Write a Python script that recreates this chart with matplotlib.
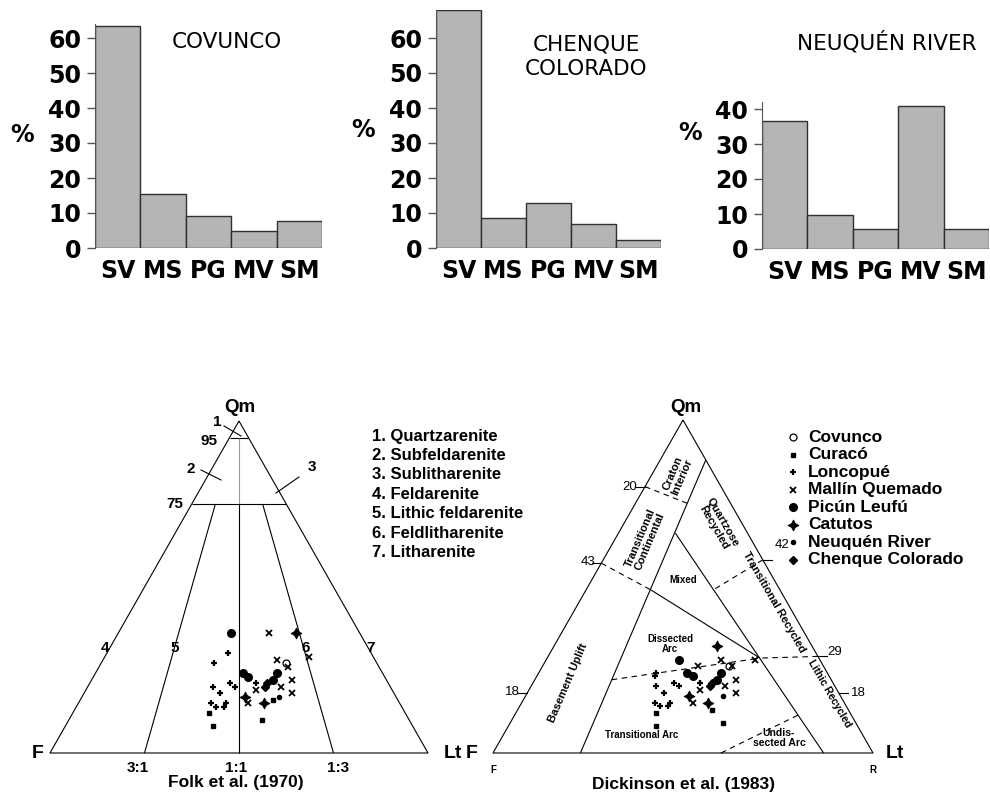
import numpy as np
import matplotlib.pyplot as plt

plt.rcParams['font.family'] = ['Liberation Sans', 'DejaVu Sans']

W, H = 990, 802

# histogram data (% of clasts)
categories = ['SV', 'MS', 'PG', 'MV', 'SM']
covunco_pct = [63.5, 15.4, 9.1, 4.9, 7.8]
chenque_pct = [68.0, 8.6, 12.9, 6.9, 2.4]
neuquen_pct = [36.7, 9.7, 5.6, 41.0, 5.6]

localities = ['Covunco', 'Curacó', 'Loncopué', 'Mallín Quemado', 'Picún Leufú',
              'Catutos', 'Neuquén River', 'Chenque Colorado']

# Dickinson diagram, (Qm, F, Lt) in %
dk_covunco = [(26, 25, 49)]
dk_curaco = [(12, 51, 37), (13, 36, 51), (9, 35, 56), (8, 53, 39)]
dk_loncopue = [(24, 45, 31), (23, 46, 31), (21, 42, 37), (20, 47, 33), (20, 41, 39),
               (18, 46, 36), (15, 50, 35), (15, 46, 39), (14, 49, 37), (14, 47, 39),
               (21, 35, 44)]
dk_mallin = [(26, 33, 41), (28, 26, 46), (26, 24, 50), (28, 17, 55), (22, 25, 53),
             (20, 29, 51), (18, 27, 55), (19, 36, 45), (15, 40, 45)]
dk_picun = [(28, 37, 35), (24, 37, 39), (23, 36, 41), (24, 28, 48), (22, 30, 48)]
dk_catutos = [(32, 25, 43), (15, 36, 49), (17, 40, 43)]
dk_neuquen = [(17, 31, 52)]
dk_chenque = [(21, 32, 47), (20, 33, 47)]

# Folk diagram, (Q, F, L) in %
fk_covunco = [(27, 24, 49)]
fk_curaco = [(12, 52, 36), (10, 39, 51), (16, 33, 51), (8, 53, 39)]
fk_loncopue = [(30, 38, 32), (27, 43, 30), (21, 42, 37), (20, 47, 33), (20, 41, 39),
               (18, 46, 36), (15, 50, 35), (15, 46, 39), (14, 49, 37), (14, 47, 39),
               (21, 35, 44)]
fk_mallin = [(36, 24, 40), (28, 26, 46), (26, 24, 50), (29, 17, 54), (22, 25, 53),
             (20, 29, 51), (18, 27, 55), (19, 36, 45), (15, 40, 45)]
fk_picun = [(36, 34, 30), (24, 37, 39), (23, 36, 41), (24, 28, 48), (22, 30, 48)]
fk_catutos = [(36, 17, 47), (15, 36, 49), (17, 40, 43)]
fk_neuquen = [(17, 31, 52)]
fk_chenque = [(21, 32, 47), (20, 33, 47)]

dk_samples = [dk_covunco, dk_curaco, dk_loncopue, dk_mallin, dk_picun,
              dk_catutos, dk_neuquen, dk_chenque]
fk_samples = [fk_covunco, fk_curaco, fk_loncopue, fk_mallin, fk_picun,
              fk_catutos, fk_neuquen, fk_chenque]

styles = [dict(marker='o', ms=5, mfc='white', mec='k', mew=0.9),
          dict(marker='s', ms=2.5, mfc='k', mec='k'),
          dict(marker='+', ms=5, mec='k', mew=1.6),
          dict(marker='x', ms=4, mec='k', mew=1.3),
          dict(marker='o', ms=5.5, mfc='k', mec='k'),
          dict(marker=(4, 1, 0), ms=8, mfc='k', mec='k', mew=0.5),
          dict(marker='o', ms=3, mfc='k', mec='k'),
          dict(marker='D', ms=4, mfc='k', mec='k')]

folk_classes = ['1. Quartzarenite', '2. Subfeldarenite', '3. Sublitharenite',
                '4. Feldarenite', '5. Lithic feldarenite', '6. Feldlitharenite',
                '7. Litharenite']

fig = plt.figure(figsize=(W / 100, H / 100), dpi=100)


def ax_px(x0, y0, x1, y1):
    return fig.add_axes([x0 / W, 1 - y1 / H, (x1 - x0) / W, (y1 - y0) / H])


# layout layer in pixel coordinates for labels
lay = ax_px(0, 0, W, H)
lay.set_xlim(0, W)
lay.set_ylim(H, 0)
lay.axis('off')

BARF = dict(family='DejaVu Sans', fontweight='bold', fontsize=17)


def bar_panel(box, vals, ymax, yticks):
    ax = ax_px(*box)
    ax.bar(range(len(categories)), vals, width=1.0, color='#b5b5b5',
           edgecolor='#303030', linewidth=1.0)
    ax.set_xlim(-0.5, len(categories) - 0.5)
    ax.set_ylim(0, ymax)
    ax.set_xticks(range(len(categories)), categories)
    ax.set_yticks(yticks)
    for s in ['top', 'right', 'bottom']:
        ax.spines[s].set_visible(False)
    ax.spines['left'].set_color('#555555')
    ax.tick_params(axis='x', length=0, pad=8)
    ax.tick_params(axis='y', length=6, width=1, color='#555555', pad=4)
    for lab in ax.get_xticklabels() + ax.get_yticklabels():
        lab.set(**BARF)
    ax.patch.set_alpha(0)
    return ax


bar_panel((95, 24, 322, 248), covunco_pct, 64, range(0, 61, 10))
bar_panel((436, 10, 661, 248), chenque_pct, 68, range(0, 61, 10))
bar_panel((762, 102, 989, 249), neuquen_pct, 42, range(0, 41, 10))

for x, y in [(22, 135), (363, 130), (690, 133)]:
    lay.text(x, y, '%', ha='center', va='center', **BARF)
TITF = dict(family='DejaVu Sans', fontsize=15.5, ha='center', va='center')
lay.text(227, 42, 'COVUNCO', **TITF)
lay.text(586, 57, 'CHENQUE\nCOLORADO', linespacing=1.3, **TITF)
lay.text(887, 42, 'NEUQUÉN RIVER', **TITF)


def to_xy(pts):
    a = np.atleast_2d(np.asarray(pts, float))
    s = a.sum(axis=1)
    qm, lt = a[:, 0] / s, a[:, 2] / s
    return 100 * (lt + qm / 2), 100 * qm


def tline(ax, pts, dashed=False, color='k', lw=0.8):
    x, y = to_xy(pts)
    ls = (0, (5, 4)) if dashed else '-'
    ax.plot(x, y, color=color, lw=lw, ls=ls, clip_on=False, solid_capstyle='butt')


def tern_axes(box, samples):
    ax = ax_px(*box)
    ax.set_xlim(0, 100)
    ax.set_ylim(0, 100)
    ax.axis('off')
    tline(ax, [(100, 0, 0), (0, 100, 0), (0, 0, 100), (100, 0, 0)])
    for pts, st in zip(samples, styles):
        x, y = to_xy(pts)
        ax.plot(x, y, ls='none', clip_on=False, **st)
    return ax


# ---- Folk et al. (1970)
axf = tern_axes((50, 421, 428, 753), fk_samples)
tline(axf, [(95, 5, 0), (95, 0, 5)])
tline(axf, [(75, 25, 0), (75, 0, 25)])
tline(axf, [(95, 2.5, 2.5), (75, 12.5, 12.5)], color='#999999')
tline(axf, [(75, 12.5, 12.5), (0, 50, 50)])
tline(axf, [(75, 18.75, 6.25), (0, 75, 25)])
tline(axf, [(75, 6.25, 18.75), (0, 25, 75)])

B = dict(fontweight='bold', ha='center', va='center')
lay.text(240, 408, 'Qm', fontsize=13.5, **B)
lay.text(38, 753, 'F', fontsize=14, **B)
lay.text(453, 753, 'Lt', fontsize=14, **B)
for t, x, y in [('1', 217, 422), ('95', 209, 441), ('2', 191, 469), ('3', 312, 467),
                ('75', 175, 504), ('4', 105, 648), ('5', 175, 648), ('6', 306, 648),
                ('7', 371, 648), ('3:1', 138, 768), ('1:1', 236, 768), ('1:3', 338, 768)]:
    lay.text(x, y, t, fontsize=11, **B)
for (x0, y0), (x1, y1) in [((224, 426), (241, 436)), ((201, 470), (221, 480)),
                           ((299, 477), (276, 493))]:
    lay.plot([x0, x1], [y0, y1], color='k', lw=0.8)
lay.text(236, 783, 'Folk et al. (1970)', fontsize=12.5, **B)
for i, name in enumerate(folk_classes):
    lay.text(372, 436 + 19.4 * i, name, fontsize=12, fontweight='bold', va='center')

# ---- Dickinson et al. (1983)
axd = tern_axes((493, 420, 873, 753), dk_samples)
a_top, a_bot = (88, 0, 12), (0, 77, 23)
mix_apex, b_bot = (66, 19, 15), (0, 13, 87)
p_arc = (28.5, 15.5, 56)
tline(axd, [a_top, a_bot])
tline(axd, [mix_apex, b_bot])
tline(axd, [(49, 34, 17), p_arc])
tline(axd, [(80, 20, 0), (75, 11.4, 13.6)], dashed=True)
tline(axd, [(57, 43, 0), (49, 34, 17)], dashed=True)
tline(axd, [(58, 0, 42), (49, 17.5, 33.5)], dashed=True)
tline(axd, [(29, 0, 71), p_arc], dashed=True)
tline(axd, [(22, 57.75, 20.25), p_arc], dashed=True)
tline(axd, [(0, 40, 60), (11.4, 14, 74.6)], dashed=True)
for q in [80, 57, 18]:
    x, y = to_xy((q, 100 - q, 0))
    axd.plot([x[0] - 2.5, x[0]], [y[0], y[0]], color='k', lw=0.8, clip_on=False)
for q in [58, 29, 18]:
    x, y = to_xy((q, 0, 100 - q))
    axd.plot([x[0], x[0] + 2.5], [y[0], y[0]], color='k', lw=0.8, clip_on=False)

lay.text(686, 408, 'Qm', fontsize=13.5, **B)
lay.text(472, 753, 'F', fontsize=14, **B)
lay.text(895, 753, 'Lt', fontsize=14, **B)
lay.text(493, 770, 'F', fontsize=7, **B)
lay.text(873, 770, 'R', fontsize=7, **B)
for t, x, y in [('20', 630, 487), ('43', 588, 562), ('18', 512, 692),
                ('42', 782, 545), ('29', 835, 652), ('18', 858, 693)]:
    lay.text(x, y, t, fontsize=9.5, ha='center', va='center')
S = dict(fontweight='bold', ha='center', va='center', linespacing=1.0)
lay.text(677, 475, 'Craton\nInterior', rotation=67, fontsize=8, **S)
lay.text(645, 540, 'Transitional\nContinental', rotation=67, fontsize=8, **S)
lay.text(718, 525, 'Quartzose\nRecycled', rotation=-60, fontsize=8, **S)
lay.text(683, 580, 'Mixed', fontsize=7, **S)
lay.text(774, 602, 'Transitional Recycled', rotation=-60, fontsize=8, **S)
lay.text(670, 644, 'Dissected\nArc', fontsize=7, **S)
lay.text(829, 694, 'Lithic Recycled', rotation=-60, fontsize=7.5, **S)
lay.text(779, 738, 'Undis-\nsected Arc', fontsize=7.5, **S)
lay.text(642, 735, 'Transitional Arc', fontsize=7, **S)
lay.text(568, 683, 'Basement Uplift', rotation=67, fontsize=8, **S)
lay.text(683, 785, 'Dickinson et al. (1983)', fontsize=12.5, **B)

for i, (name, st) in enumerate(zip(localities, styles)):
    y = 437 + 17.5 * i
    lay.plot([793], [y], ls='none', **st)
    lay.text(808, y, name, fontsize=12.5, fontweight='bold', va='center')

fig.savefig('out.png', dpi=100)
